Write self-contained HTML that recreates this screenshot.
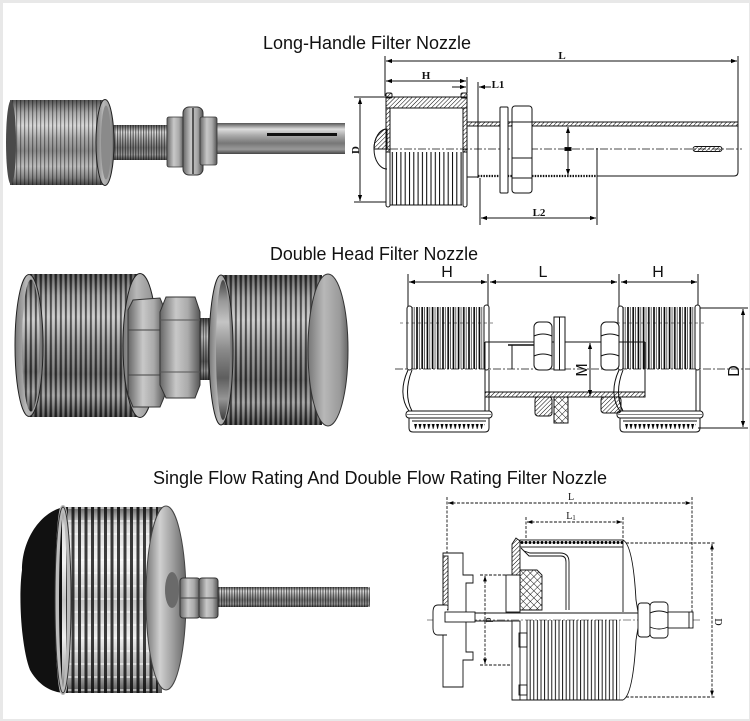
<!DOCTYPE html>
<html><head><meta charset="utf-8"><style>
html,body{margin:0;padding:0;background:#fff}
svg{display:block}
</style></head><body>
<svg width="750" height="721" viewBox="0 0 750 721" xmlns="http://www.w3.org/2000/svg">
<defs>
<marker id="ar" viewBox="0 0 10 10" refX="10" refY="5" markerWidth="6" markerHeight="6" orient="auto-start-reverse"><path d="M0,1.5 L10,5 L0,8.5 z" fill="#000"/></marker>
<pattern id="hatch" width="3" height="3" patternUnits="userSpaceOnUse" patternTransform="rotate(45)"><line x1="0" y1="0" x2="0" y2="3" stroke="#000" stroke-width="1"/></pattern>
<pattern id="xhatch" width="5" height="5" patternUnits="userSpaceOnUse" patternTransform="rotate(45)"><line x1="0" y1="0" x2="0" y2="5" stroke="#000" stroke-width="0.9"/><line x1="0" y1="0" x2="5" y2="0" stroke="#000" stroke-width="0.9"/></pattern>
<pattern id="vs1" width="4.3" height="10" patternUnits="userSpaceOnUse"><line x1="1" y1="0" x2="1" y2="10" stroke="#000" stroke-width="1"/></pattern>
<pattern id="vs2" width="5.2" height="10" patternUnits="userSpaceOnUse"><line x1="1" y1="0" x2="1" y2="10" stroke="#000" stroke-width="1.6"/><line x1="3.4" y1="0" x2="3.4" y2="10" stroke="#000" stroke-width="0.6"/></pattern>
<pattern id="vs3" width="3.6" height="10" patternUnits="userSpaceOnUse"><line x1="1" y1="0" x2="1" y2="10" stroke="#000" stroke-width="0.9"/></pattern>
<pattern id="ticks" width="4.4" height="8" patternUnits="userSpaceOnUse"><path d="M0.5,0 L3.5,0 L2,6 z" fill="#000"/></pattern>
<pattern id="dots" width="4" height="7" patternUnits="userSpaceOnUse"><circle cx="2" cy="3.5" r="1.5" fill="#000"/></pattern>
<pattern id="wireV" width="4" height="10" patternUnits="userSpaceOnUse"><rect width="1.2" height="10" fill="#000" opacity="0.4"/></pattern>
<pattern id="wireV2" width="5" height="10" patternUnits="userSpaceOnUse"><rect width="1.8" height="10" fill="#000" opacity="0.55"/><rect x="2.6" width="1" height="10" fill="#fff" opacity="0.35"/></pattern>
<pattern id="wireV3" width="6.5" height="13" patternUnits="userSpaceOnUse"><rect width="3" height="13" fill="#000" opacity="0.75"/><rect x="3" y="0" width="3.5" height="2" fill="#fff" opacity="0.5"/></pattern>
<pattern id="thread" width="2.6" height="10" patternUnits="userSpaceOnUse"><rect width="1.1" height="10" fill="#000" opacity="0.55"/></pattern>
<linearGradient id="g1" x1="0" y1="0" x2="0" y2="1">
<stop offset="0" stop-color="#555"/><stop offset=".15" stop-color="#aaa"/><stop offset=".3" stop-color="#d8d8d8"/><stop offset=".45" stop-color="#a8a8a8"/><stop offset=".6" stop-color="#8a8a8a"/><stop offset=".78" stop-color="#bdbdbd"/><stop offset=".92" stop-color="#808080"/><stop offset="1" stop-color="#444"/>
</linearGradient>
<linearGradient id="gT" x1="0" y1="0" x2="0" y2="1">
<stop offset="0" stop-color="#555"/><stop offset=".2" stop-color="#ddd"/><stop offset=".4" stop-color="#aaa"/><stop offset=".65" stop-color="#777"/><stop offset=".85" stop-color="#999"/><stop offset="1" stop-color="#444"/>
</linearGradient>
<linearGradient id="g2" x1="0" y1="0" x2="0" y2="1">
<stop offset="0" stop-color="#444"/><stop offset=".15" stop-color="#999"/><stop offset=".3" stop-color="#c4c4c4"/><stop offset=".5" stop-color="#8a8a8a"/><stop offset=".7" stop-color="#5e5e5e"/><stop offset=".85" stop-color="#959595"/><stop offset="1" stop-color="#3a3a3a"/>
</linearGradient>
<linearGradient id="g3" x1="0" y1="0" x2="0" y2="1">
<stop offset="0" stop-color="#666"/><stop offset=".1" stop-color="#ddd"/><stop offset=".3" stop-color="#f4f4f4"/><stop offset=".5" stop-color="#c4c4c4"/><stop offset=".7" stop-color="#eee"/><stop offset=".9" stop-color="#aaa"/><stop offset="1" stop-color="#555"/>
</linearGradient>
<linearGradient id="gN" x1="0" y1="0" x2="1" y2="0">
<stop offset="0" stop-color="#666"/><stop offset=".4" stop-color="#c8c8c8"/><stop offset=".7" stop-color="#aaa"/><stop offset="1" stop-color="#555"/>
</linearGradient>
<linearGradient id="gC" x1="0" y1="0" x2="1" y2="0">
<stop offset="0" stop-color="#777"/><stop offset=".4" stop-color="#b8b8b8"/><stop offset=".8" stop-color="#9a9a9a"/><stop offset="1" stop-color="#666"/>
</linearGradient>
<linearGradient id="gC3" x1="0" y1="0" x2="1" y2="0">
<stop offset="0" stop-color="#777"/><stop offset=".35" stop-color="#d0d0d0"/><stop offset=".7" stop-color="#999"/><stop offset="1" stop-color="#666"/>
</linearGradient>
</defs>

<rect width="750" height="721" fill="#e8e8e8"/>
<rect x="3" y="3" width="746" height="716" fill="#fff"/>

<!-- Titles -->
<g font-family="Liberation Sans, Arial, sans-serif" fill="#111" font-size="18">
<text x="263" y="49" textLength="208" lengthAdjust="spacingAndGlyphs">Long-Handle Filter Nozzle</text>
<text x="270" y="260" textLength="208" lengthAdjust="spacingAndGlyphs">Double Head Filter Nozzle</text>
<text x="153" y="484" textLength="454" lengthAdjust="spacingAndGlyphs">Single Flow Rating And Double Flow Rating Filter Nozzle</text>
</g>

<!-- ===== Photo 1 ===== -->
<rect x="215" y="123" width="130" height="31" fill="url(#gT)"/>
<rect x="267" y="133" width="70" height="3" fill="#111"/>
<rect x="100" y="125" width="70" height="35" fill="url(#gT)"/>
<rect x="100" y="125" width="70" height="35" fill="url(#thread)"/>
<rect x="167" y="117" width="17" height="50" rx="2" fill="url(#gN)" stroke="#333" stroke-width=".8"/>
<rect x="183" y="107" width="20" height="68" rx="6" fill="url(#gN)" stroke="#333"/>
<line x1="193" y1="108" x2="193" y2="174" stroke="#555" stroke-width="2"/>
<rect x="200" y="117" width="17" height="48" rx="2" fill="url(#gN)" stroke="#333" stroke-width=".8"/>
<rect x="10" y="100" width="96" height="85" fill="url(#g1)"/>
<rect x="10" y="100" width="96" height="85" fill="url(#wireV)"/>
<ellipse cx="11" cy="142.5" rx="5" ry="42" fill="#4a4a4a"/>
<ellipse cx="105" cy="142.5" rx="9" ry="43" fill="url(#gC)" stroke="#222"/>
<ellipse cx="106" cy="142.5" rx="5" ry="37" fill="#8a8a8a"/>

<!-- ===== Photo 2 ===== -->
<rect x="185" y="318" width="30" height="62" fill="url(#g2)"/>
<rect x="185" y="318" width="30" height="62" fill="url(#thread)"/>
<rect x="30" y="274" width="110" height="143" fill="url(#g2)"/>
<rect x="30" y="274" width="110" height="143" fill="url(#wireV2)"/>
<ellipse cx="29" cy="345.5" rx="14" ry="71" fill="url(#gC)" stroke="#222"/>
<ellipse cx="31" cy="345.5" rx="9" ry="66" fill="url(#g2)"/>
<ellipse cx="31" cy="345.5" rx="9" ry="66" fill="url(#wireV2)"/>
<ellipse cx="140" cy="345.5" rx="17" ry="72" fill="url(#gC)" stroke="#222"/>
<polygon points="133,300 160,298 165,310 165,395 160,407 133,407 128,395 128,310" fill="url(#gN)" stroke="#333"/>
<line x1="128" y1="330" x2="165" y2="330" stroke="#444"/>
<line x1="128" y1="375" x2="165" y2="375" stroke="#444"/>
<polygon points="166,297 195,297 200,312 200,385 195,398 166,398 160,385 160,312" fill="url(#gN)" stroke="#333"/>
<line x1="160" y1="320" x2="200" y2="320" stroke="#555"/>
<line x1="160" y1="372" x2="200" y2="372" stroke="#555"/>
<rect x="222" y="275" width="100" height="150" fill="url(#g2)"/>
<rect x="222" y="275" width="100" height="150" fill="url(#wireV2)"/>
<ellipse cx="221" cy="350" rx="12" ry="75" fill="url(#gC)" stroke="#222"/>
<ellipse cx="223" cy="350" rx="7" ry="70" fill="url(#g2)"/>
<ellipse cx="328" cy="350" rx="20" ry="76" fill="url(#gC)" stroke="#333"/>

<!-- ===== Photo 3 ===== -->
<rect x="215" y="587" width="155" height="20" rx="3" fill="url(#gT)"/>
<rect x="215" y="587" width="155" height="20" fill="url(#thread)"/>
<path d="M64,507 C40,512 22,540 22,570 C18,600 22,650 30,670 C40,688 55,693 66,693 Z" fill="#111"/>
<rect x="62" y="507" width="100" height="186" fill="url(#g3)"/>
<rect x="66" y="507" width="92" height="186" fill="url(#wireV3)"/>
<ellipse cx="63" cy="600" rx="6" ry="93" fill="none" stroke="#bbb" stroke-width="4"/>
<ellipse cx="63" cy="600" rx="8" ry="93" fill="none" stroke="#333" stroke-width="1"/>
<ellipse cx="166" cy="598" rx="20" ry="92" fill="url(#gC3)" stroke="#444"/>
<ellipse cx="172" cy="590" rx="7" ry="18" fill="#6a6a6a"/>
<rect x="180" y="578" width="20" height="40" rx="3" fill="url(#gN)" stroke="#333"/>
<rect x="199" y="578" width="19" height="40" rx="3" fill="url(#gN)" stroke="#333"/>
<line x1="180" y1="598" x2="218" y2="598" stroke="#444"/>

<!-- ===== Drawing 1 (Long-handle) ===== -->
<g fill="none" stroke="#111" stroke-width="1">
<line x1="385" y1="56" x2="385" y2="96"/>
<line x1="738" y1="56" x2="738" y2="124"/>
<line x1="386" y1="61" x2="737" y2="61" marker-start="url(#ar)" marker-end="url(#ar)"/>
<line x1="386" y1="81" x2="466" y2="81" marker-start="url(#ar)" marker-end="url(#ar)"/>
<line x1="467" y1="77" x2="467" y2="93"/>
<line x1="452" y1="87" x2="466" y2="87" marker-end="url(#ar)"/>
<line x1="478" y1="82" x2="478" y2="178"/>
<line x1="491" y1="87" x2="479" y2="87" marker-end="url(#ar)"/>
<line x1="354" y1="97" x2="386" y2="97"/>
<line x1="354" y1="202" x2="386" y2="202"/>
<line x1="360" y1="98" x2="360" y2="201" marker-start="url(#ar)" marker-end="url(#ar)"/>
<!-- head -->
<rect x="386" y="97" width="81" height="11" fill="url(#hatch)"/>
<rect x="386" y="93" width="6" height="5" rx="1.5" fill="url(#hatch)"/>
<rect x="461" y="93" width="6" height="5" rx="1.5" fill="url(#hatch)"/>
<rect x="386" y="108" width="4" height="44" fill="url(#hatch)"/>
<rect x="463" y="108" width="4" height="44" fill="url(#hatch)"/>
<rect x="390" y="152" width="72" height="53" fill="url(#vs1)" stroke="none"/>
<line x1="390" y1="205" x2="462" y2="205"/>
<rect x="386" y="149" width="4" height="58" rx="2"/>
<rect x="463" y="149" width="4" height="58" rx="2"/>
<path d="M387,129 A13,20 0 0 0 387,169"/>
<path d="M387,129 A13,20 0 0 0 374,149 L387,149 Z" fill="url(#hatch)"/>
<!-- tube -->
<rect x="467" y="122" width="271" height="4" fill="url(#hatch)"/>
<line x1="478" y1="176" x2="597" y2="176" stroke-width="2.2" stroke-dasharray="1.5 1.2"/>
<path d="M597,176 L734,176 Q738,176 738,172 L738,126"/>
<line x1="597" y1="148" x2="597" y2="178"/>
<line x1="467" y1="177" x2="478" y2="177"/>
<line x1="390" y1="149" x2="742" y2="149" stroke-width=".7" stroke-dasharray="8 2 2 2"/>
<rect x="693" y="146.5" width="29" height="5" rx="2.5" fill="url(#hatch)"/>
<rect x="500" y="107" width="8" height="86" rx="1" fill="#fff"/>
<rect x="512" y="106" width="20" height="87" rx="3" fill="#fff"/>
<line x1="512" y1="122" x2="532" y2="122"/>
<line x1="512" y1="158" x2="532" y2="158"/>
<line x1="512" y1="178" x2="532" y2="178"/>
<line x1="568" y1="127" x2="568" y2="175" marker-start="url(#ar)" marker-end="url(#ar)"/>
<rect x="565" y="147.5" width="6" height="3" fill="#000"/>
<line x1="480" y1="178" x2="480" y2="225"/>
<line x1="597" y1="178" x2="597" y2="225"/>
<line x1="481" y1="218" x2="596" y2="218" marker-start="url(#ar)" marker-end="url(#ar)"/>
</g>
<g font-family="Liberation Serif, serif" font-weight="bold" font-size="11" fill="#111" text-anchor="middle">
<text x="562" y="59">L</text>
<text x="426" y="79">H</text>
<text x="498" y="88">L1</text>
<text x="539" y="216">L2</text>
<text transform="translate(359,150) rotate(-90)">D</text>
</g>

<!-- ===== Drawing 2 (Double head) ===== -->
<g font-family="Liberation Sans, Arial, sans-serif" font-size="16" fill="#111" text-anchor="middle">
<text x="447" y="277">H</text>
<text x="543" y="277">L</text>
<text x="658" y="277">H</text>
<text transform="translate(587,370) rotate(-90)">M</text>
<text transform="translate(739,371) rotate(-90)">D</text>
</g>
<g fill="none" stroke="#111" stroke-width="1">
<line x1="408" y1="274" x2="408" y2="307"/>
<line x1="488" y1="274" x2="488" y2="307"/>
<line x1="619" y1="274" x2="619" y2="307"/>
<line x1="698" y1="274" x2="698" y2="307"/>
<line x1="409" y1="282" x2="487" y2="282" marker-start="url(#ar)" marker-end="url(#ar)"/>
<line x1="490" y1="282" x2="617" y2="282" marker-start="url(#ar)" marker-end="url(#ar)"/>
<line x1="621" y1="282" x2="697" y2="282" marker-start="url(#ar)" marker-end="url(#ar)"/>
<line x1="698" y1="308" x2="748" y2="308"/>
<line x1="698" y1="428" x2="748" y2="428"/>
<line x1="743" y1="309" x2="743" y2="427" marker-start="url(#ar)" marker-end="url(#ar)"/>
<line x1="395" y1="369" x2="750" y2="369" stroke-width=".7" stroke-dasharray="8 2 2 2"/>
<!-- heads -->
<g id="hd">
<rect x="412" y="307" width="72" height="62" fill="url(#vs2)" stroke="none"/>
<rect x="407" y="306" width="5" height="64" rx="2.5" fill="#fff"/>
<rect x="484" y="305" width="5" height="65" rx="2.5" fill="#fff"/>
<line x1="400" y1="323" x2="496" y2="323" stroke-width=".6" stroke-dasharray="3 3"/>
<path d="M408,370 C401,385 401,400 409,411"/>
<path d="M412,370 C406,385 406,400 412,411"/>
<line x1="485" y1="370" x2="485" y2="411"/>
<line x1="489" y1="370" x2="489" y2="411"/>
<rect x="406" y="411" width="86" height="7" rx="3"/>
<line x1="407" y1="414.5" x2="491" y2="414.5" stroke-width=".6"/>
<path d="M409,418 L409,428 Q409,432 413,432 L485,432 Q489,432 489,428 L489,418"/>
<line x1="412" y1="421" x2="486" y2="421"/>
<rect x="413" y="422" width="72" height="7" fill="url(#ticks)" stroke="none"/>
</g>
<use href="#hd" transform="translate(211,0)"/>
<!-- tube -->
<line x1="485" y1="342" x2="645" y2="342"/>
<line x1="508" y1="345" x2="535" y2="345" stroke-width="1.5"/>
<line x1="485" y1="342" x2="485" y2="397"/>
<line x1="645" y1="342" x2="645" y2="397"/>
<line x1="512" y1="345" x2="512" y2="369"/>
<rect x="485" y="392" width="160" height="5" fill="url(#hatch)"/>
<rect x="534" y="322" width="18" height="48" rx="5" fill="#fff"/>
<path d="M534,336 Q543,332 552,336 M534,356 Q543,352 552,356"/>
<rect x="554" y="317" width="11" height="53" fill="#fff"/>
<line x1="559.5" y1="317" x2="559.5" y2="370"/>
<rect x="601" y="322" width="18" height="48" rx="5" fill="#fff"/>
<path d="M601,336 Q610,332 619,336 M601,356 Q610,352 619,356"/>
<rect x="535" y="397" width="17" height="19" rx="3" fill="url(#hatch)"/>
<rect x="554" y="397" width="14" height="26" fill="url(#xhatch)"/>
<rect x="601" y="397" width="20" height="16" rx="3" fill="url(#hatch)"/>
<line x1="590" y1="343" x2="590" y2="396" marker-start="url(#ar)" marker-end="url(#ar)"/>
</g>

<!-- ===== Drawing 3 (Single/Double flow) ===== -->
<g font-family="Liberation Serif, serif" font-size="10" fill="#111" text-anchor="middle">
<text x="571" y="500">L</text>
<text x="571" y="519">L<tspan font-size="7" dy="1">1</tspan></text>
<text transform="translate(486,620) rotate(90)">d</text>
<text transform="translate(715,622) rotate(90)">D</text>
</g>
<g fill="none" stroke="#111" stroke-width="0.9">
<g stroke-dasharray="3 1.5">
<line x1="447" y1="497" x2="447" y2="553"/>
<line x1="692" y1="497" x2="692" y2="617"/>
<line x1="448" y1="503" x2="691" y2="503" marker-start="url(#ar)" marker-end="url(#ar)"/>
<line x1="526" y1="517" x2="526" y2="540"/>
<line x1="623" y1="517" x2="623" y2="540"/>
<line x1="527" y1="522" x2="622" y2="522" marker-start="url(#ar)" marker-end="url(#ar)"/>
<line x1="626" y1="543" x2="716" y2="543"/>
<line x1="626" y1="697" x2="716" y2="697"/>
<line x1="712" y1="544" x2="712" y2="696" marker-start="url(#ar)" marker-end="url(#ar)"/>
<line x1="480" y1="575" x2="512" y2="575"/>
<line x1="480" y1="665" x2="512" y2="665"/>
<line x1="485" y1="576" x2="485" y2="664" marker-start="url(#ar)" marker-end="url(#ar)"/>
</g>
<line x1="427" y1="620" x2="700" y2="620" stroke-width=".6" stroke-dasharray="8 2 2 2"/>
<!-- plate -->
<path d="M443,553 H463 V575 H473 V583 H466 V652 H473 V660 H463 V687 H443 Z" fill="#fff"/>
<rect x="443" y="556" width="5" height="54" fill="url(#hatch)"/>
<path d="M447,605 H438 Q433,605 433,612 V628 Q433,635 438,635 H447" fill="#fff"/>
<rect x="445" y="612" width="30" height="10" fill="#fff"/>
<line x1="475" y1="613" x2="638" y2="613"/>
<line x1="475" y1="621" x2="512" y2="621"/>
<!-- body -->
<rect x="506" y="575" width="14" height="37" fill="#fff"/>
<path d="M512,575 L512,544 L516,538 L520,541 L520,575 Z" fill="url(#hatch)"/>
<rect x="520" y="540" width="103" height="7" fill="url(#dots)"/>
<path d="M623,540 Q633,545 636,600 L638,612"/>
<path d="M638,628 L636,640 Q633,695 623,700"/>
<line x1="623" y1="547" x2="623" y2="612"/>
<path d="M521,548 L529,556 L561,556 Q566,556 566,562 L566,610"/>
<path d="M524,551 L530,553 L560,553 Q569,553 569,562 L569,610"/>
<path d="M520,570 L537,570 L542,575 L542,610 L520,610 Z" fill="url(#xhatch)"/>
<rect x="512" y="621" width="8" height="79" fill="#fff"/>
<rect x="527" y="620" width="93" height="80" fill="url(#vs3)" stroke="none"/>
<line x1="512" y1="700" x2="623" y2="700"/>
<line x1="527" y1="620" x2="527" y2="700"/>
<rect x="519" y="633" width="8" height="14"/>
<rect x="519" y="685" width="8" height="10"/>
<!-- nut & bolt -->
<rect x="638" y="603" width="12" height="34" rx="3" fill="#fff"/>
<rect x="650" y="602" width="18" height="36" rx="4" fill="#fff"/>
<path d="M650,613 Q659,609 668,613 M650,627 Q659,631 668,627"/>
<rect x="668" y="612" width="25" height="16" fill="#fff"/>
<line x1="689" y1="612" x2="689" y2="628"/>
</g>
</svg>
</body></html>
